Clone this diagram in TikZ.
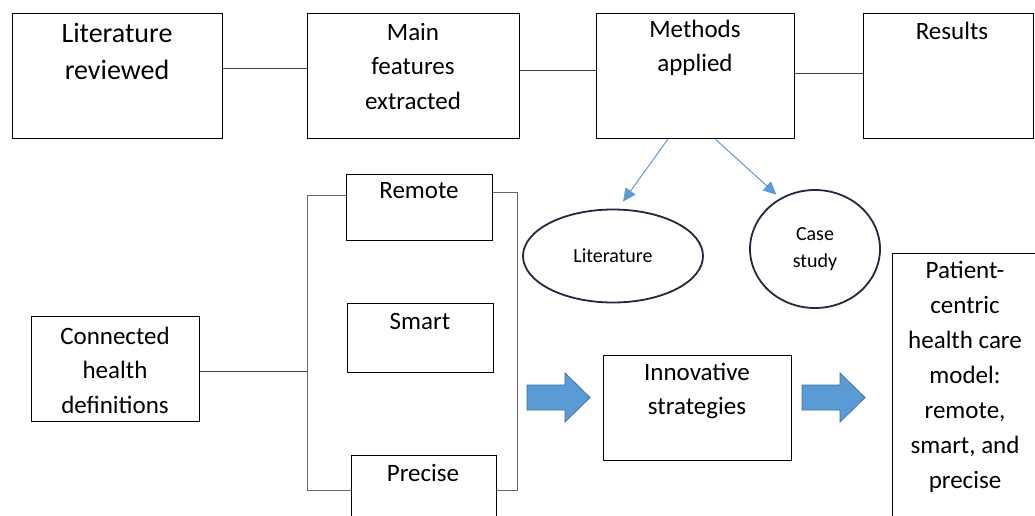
\documentclass[tikz,border=0pt]{standalone}
\usepackage{fontspec}
\setmainfont{Carlito}
\usetikzlibrary{arrows.meta,shapes.geometric}

\definecolor{arrowblue}{HTML}{5B9BD5}
\definecolor{arrowedge}{HTML}{41719C}
\definecolor{ovalline}{HTML}{1F2A3C}

\tikzset{
  box/.style={draw=black,line width=1.4pt,anchor=north west,inner sep=0pt},
  lbl/.style={align=center,inner sep=0pt,font=\fontsize{25}{34.5}\selectfont},
  link/.style={draw=black!75,line width=1pt},
  bracket/.style={draw=black!60,line width=1pt},
  oval/.style={ellipse,draw=ovalline,line width=1.8pt,inner sep=0pt,align=center,font=\fontsize{20}{27}\selectfont},
  thinarrow/.style={draw=arrowblue,line width=1pt,-{Triangle[length=13pt,width=12pt]}},
  blockarrow/.style={fill=arrowblue,draw=arrowedge,line width=0.8pt}
}

\begin{document}
\begin{tikzpicture}[x=1pt,y=-1pt]

        % Canvas
        \useasboundingbox (0,0) rectangle (1035,515);
        \fill[white] (0,0) rectangle (1035,515);
        \clip (0,0) rectangle (1035,515);

        % Top row
        \node[box,minimum width=210pt,minimum height=125pt] (lit) at (12,13) {};
        \node[box,minimum width=212pt,minimum height=125pt] (main) at (307,13) {};
        \node[box,minimum width=198pt,minimum height=125pt] (meth) at (596,13) {};
        \node[box,minimum width=170pt,minimum height=125pt] (res) at (863,13) {};

        \node[lbl,font=\fontsize{28}{37}\selectfont] (lit-t) at (117,51) {Literature\\reviewed};
        \node[lbl] (main-t) at (413,66) {Main\\features\\extracted};
        \node[lbl] (meth-t) at (695,48) {Methods\\applied};
        \node[lbl] (res-t) at (952,31) {Results};

        \draw[link] ([yshift=7.5pt]lit.east) -- ([yshift=7.5pt]lit.east -| main.west);
        \draw[link] ([yshift=5.5pt]main.east) -- ([yshift=5.5pt]main.east -| meth.west);
        \draw[link] ([yshift=2.5pt]meth.east) -- ([yshift=2.5pt]meth.east -| res.west);

        % Methods: literature and case study
        \node[oval,minimum width=180pt,minimum height=93pt] (lite) at (613,256) {Literature};
        \node[oval,minimum width=130pt,minimum height=118pt] (case) at (815,249) {Case\\study};

        \draw[thinarrow] ([xshift=-28pt]meth.south) -- ([xshift=10pt,yshift=7pt]lite.north);
        \draw[thinarrow] ([xshift=20pt]meth.south) -- ([xshift=8pt,yshift=12pt]case.north west);

        % Definitions and the three branches
        \node[box,minimum width=168pt,minimum height=105pt] (conn) at (31,316) {};
        \node[lbl] (conn-t) at (115,370) {Connected\\health\\definitions};

        \node[box,minimum width=146pt,minimum height=66pt] (remote) at (346,174) {};
        \node[box,minimum width=146pt,minimum height=69pt] (smart) at (347,303) {};
        \node[box,minimum width=145pt,minimum height=80pt] (precise) at (351,455) {};
        \node[lbl] (remote-t) at (419,191) {Remote};
        \node[lbl] (smart-t) at (420,321) {Smart};
        \node[lbl] (precise-t) at (423,473) {Precise};

        \coordinate (rem-l) at ([yshift=-21pt]remote.north west);
        \coordinate (rem-r) at ([yshift=-18pt]remote.north east);
        \coordinate (pre-l) at ([yshift=-35pt]precise.north west);
        \coordinate (pre-r) at ([yshift=-35pt]precise.north east);

        \draw[link] ([yshift=-2pt]conn.east) -- ++(108,0);
        \draw[bracket] (rem-l) -- ++(-39,0) |- (pre-l);
        \draw[bracket] (rem-r) -- ++(24,0) |- (pre-r);

        % Strategies and model
        \node[box,minimum width=188pt,minimum height=105pt] (innov) at (603,355) {};
        \node[lbl] (innov-t) at (697,391) {Innovative\\strategies};

        \node[box,minimum width=160pt,minimum height=290pt] (patient) at (892,253) {};
        \node[lbl,font=\fontsize{25}{35}\selectfont] (patient-t) at (965,377)
            {Patient-\\centric\\health care\\model:\\remote,\\smart, and\\precise};

        % Block arrows
        \filldraw[blockarrow] (527,385) -- (565,385) -- (565,373) -- (590,397.5)
            -- (565,422) -- (565,410) -- (527,410) -- cycle;
        \filldraw[blockarrow] (802,385) -- (840,385) -- (840,373) -- (865,397.5)
            -- (840,422) -- (840,410) -- (802,410) -- cycle;

\end{tikzpicture}
\end{document}
